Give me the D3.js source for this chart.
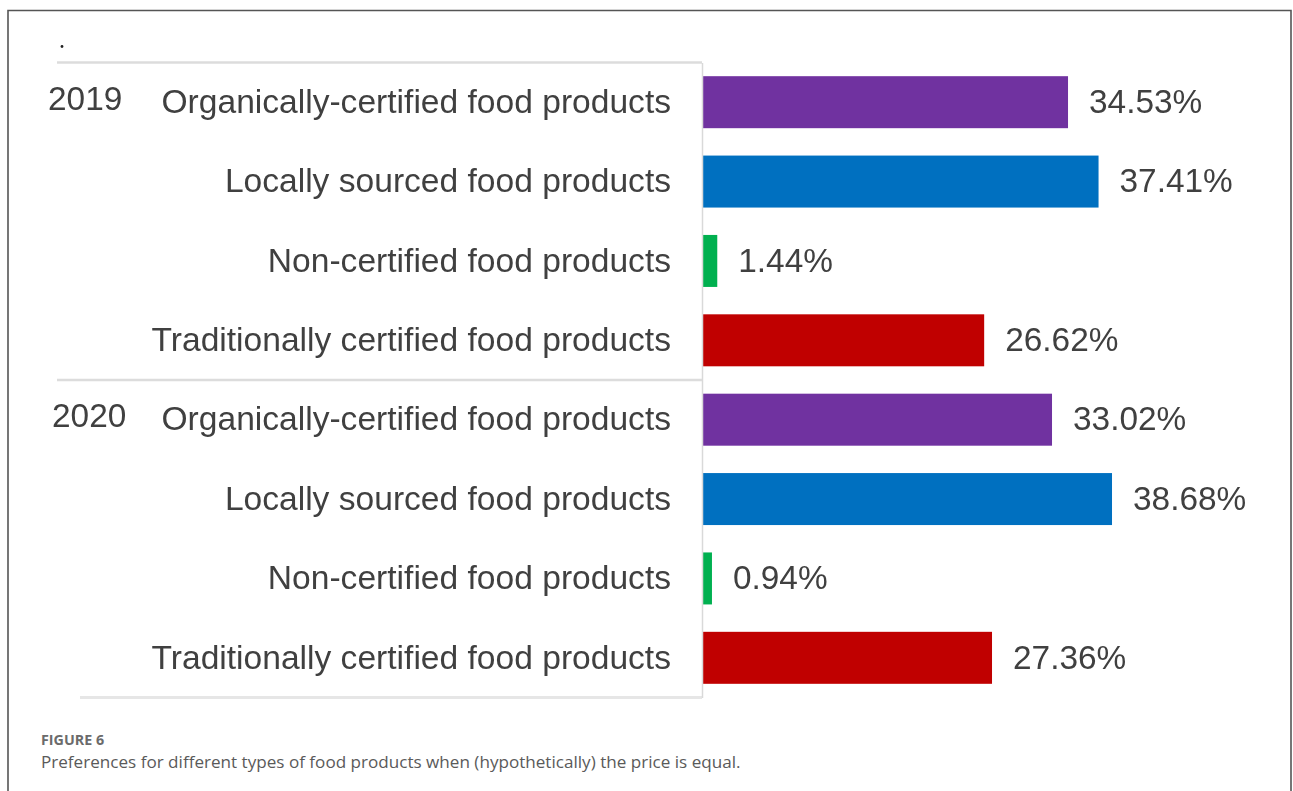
<!DOCTYPE html>
<html>
<head>
<meta charset="utf-8">
<script src="https://cdn.jsdelivr.net/npm/d3@7"></script>
<style>
  body { margin: 0; background: #fff; }
  svg { display: block; }
  .cat, .year, .val { font-family: Arial, "Liberation Sans", Helvetica, sans-serif; fill: #3f3f3f; }
  .cat { font-size: 33.6px; }
  .year { font-size: 33.4px; }
  .val { font-size: 33.4px; }
  .figno { font-family: "Open Sans", sans-serif; font-size: 14.3px; font-weight: bold; fill: #6b6b6b; }
  .caption { font-family: "Open Sans", sans-serif; font-size: 17.1px; fill: #5a5a5a; }
</style>
</head>
<body>
<div id="chart"></div>
<script>
(function () {'use strict';

// Data
var years = ['2019', '2020'];
var categories = [
    'Organically-certified food products',
    'Locally sourced food products',
    'Non-certified food products',
    'Traditionally certified food products'
];
var values2019 = [34.53, 37.41, 1.44, 26.62];
var values2020 = [33.02, 38.68, 0.94, 27.36];
var colors = ['#7030a0', '#0070c0', '#00b050', '#c00000'];

var W = 1293, H = 791;

var rows = [];
[values2019, values2020].forEach(function (vals, yi) {
    vals.forEach(function (v, ci) {
        rows.push({
            key: years[yi] + '|' + ci,
            year: years[yi],
            first: ci === 0,
            cat: categories[ci],
            value: v,
            color: colors[ci]
        });
    });
});

var svg = d3.select('#chart')
    .append('svg')
        .attr('width', W)
        .attr('height', H);

var defs = svg.append('defs');
var blur = defs.append('filter').attr('id', 'soft');
blur.append('feGaussianBlur').attr('stdDeviation', 0.45);

// Outer frame (top, left, right)
svg.append('path')
    .attr('d', 'M8,' + H + ' L8,10.5 L1291,10.5 L1291,' + H)
    .attr('fill', 'none')
    .attr('stroke', '#555')
    .attr('stroke-width', 1.6);

var plot = { left: 702, top: 62.5, bottom: 697.5 };

var x = d3.scaleLinear().domain([0, 1]).range([plot.left, plot.left + 10.6]);
var y = d3.scaleBand()
    .domain(rows.map(function (d) { return d.key; }))
    .range([plot.top, plot.bottom])
    .paddingInner(0.345)
    .paddingOuter(0.1725);

var g = svg.append('g').attr('filter', 'url(#soft)');

// Label panel with soft edges
var panelLeft = 57;
g.append('line')
    .attr('x1', panelLeft).attr('x2', plot.left)
    .attr('y1', plot.top).attr('y2', plot.top)
    .attr('stroke', '#dcdcdc').attr('stroke-width', 2.5);
var mid = (y(years[1] + '|0') + y(years[0] + '|3') + y.bandwidth()) / 2;
g.append('line')
    .attr('x1', panelLeft).attr('x2', plot.left)
    .attr('y1', mid).attr('y2', mid)
    .attr('stroke', '#dcdcdc').attr('stroke-width', 2.5);
g.append('line')
    .attr('x1', 80).attr('x2', plot.left)
    .attr('y1', plot.bottom).attr('y2', plot.bottom)
    .attr('stroke', '#e6e6e6').attr('stroke-width', 3);

// Axis line
svg.append('g')
    .attr('transform', 'translate(' + plot.left + ',0)')
    .call(d3.axisLeft(y).tickSize(0).tickFormat(''))
    .call(function (a) {
        a.select('.domain').attr('stroke', '#d9d9d9').attr('stroke-width', 1.5);
    });

// Bars
g.selectAll('rect.bar')
    .data(rows)
    .enter().append('rect')
        .attr('class', 'bar')
        .attr('x', x(0))
        .attr('y', function (d) { return y(d.key); })
        .attr('width', function (d) { return x(d.value) - x(0); })
        .attr('height', y.bandwidth())
        .attr('fill', function (d) { return d.color; });

// Category labels
g.selectAll('text.cat')
    .data(rows)
    .enter().append('text')
        .attr('class', 'cat')
        .attr('x', 671)
        .attr('y', function (d) { return y(d.key) + y.bandwidth() / 2; })
        .attr('dy', '0.32em')
        .attr('text-anchor', 'end')
        .text(function (d) { return d.cat; });

// Year labels
g.selectAll('text.year')
    .data(rows.filter(function (d) { return d.first; }))
    .enter().append('text')
        .attr('class', 'year')
        .attr('x', function (d, i) { return i === 0 ? 48 : 52; })
        .attr('y', function (d) { return y(d.key) + y.bandwidth() / 2 - 3; })
        .attr('dy', '0.32em')
        .text(function (d) { return d.year; });

// Value labels
g.selectAll('text.val')
    .data(rows)
    .enter().append('text')
        .attr('class', 'val')
        .attr('x', function (d) { return x(d.value) + 21; })
        .attr('y', function (d) { return y(d.key) + y.bandwidth() / 2; })
        .attr('dy', '0.32em')
        .text(function (d) { return d3.format('.2f')(d.value) + '%'; });

// Stray dot in the original
svg.append('circle')
    .attr('cx', 62).attr('cy', 46.5).attr('r', 1.4).attr('fill', '#222');

// Caption
svg.append('text')
    .attr('class', 'figno')
    .attr('x', 41).attr('y', 745)
    .text('FIGURE 6');
svg.append('text')
    .attr('class', 'caption')
    .attr('x', 41).attr('y', 768)
    .text('Preferences for different types of food products when (hypothetically) the price is equal.');

})();
</script>
</body>
</html>
